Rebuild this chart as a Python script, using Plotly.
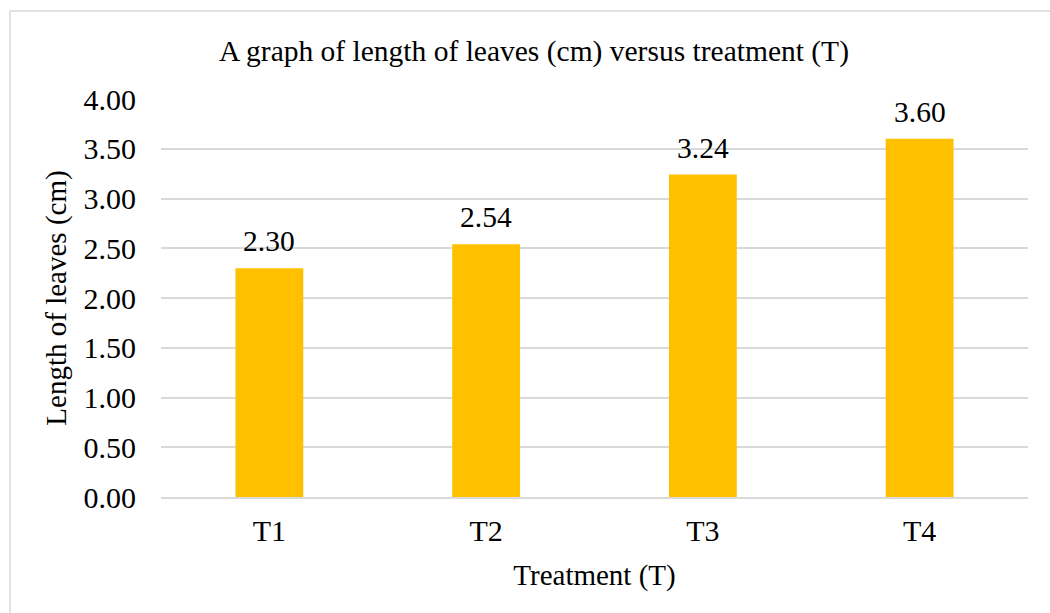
import plotly.graph_objects as go

categories = ["T1", "T2", "T3", "T4"]
values = [2.30, 2.54, 3.24, 3.60]
labels = ["2.30", "2.54", "3.24", "3.60"]
tick_vals = [0, 0.5, 1.0, 1.5, 2.0, 2.5, 3.0, 3.5, 4.0]
tick_text = ["0.00", "0.50", "1.00", "1.50", "2.00", "2.50", "3.00", "3.50", "4.00"]

FONT = "Liberation Serif, Times New Roman, serif"
W, H = 1050, 613
L, R, T, B = 161, 22, 99, 116
PW, PH = W - L - R, H - T - B

fig = go.Figure(go.Bar(
    x=categories, y=values,
    marker=dict(color="#FFC000", line=dict(width=0)),
    hoverinfo="x+y",
))

annotations = [
    dict(x=c, y=v, text=t, xref="x", yref="y", showarrow=False,
         yanchor="bottom", yshift=9, font=dict(family=FONT, size=29.5, color="#000000"))
    for c, v, t in zip(categories, values, labels)
]

bx = (10 - L) / PW
by = (H - 11 - B) / PH
fig.update_layout(
    width=W, height=H,
    paper_bgcolor="white", plot_bgcolor="white",
    margin=dict(l=L, r=R, t=T, b=B, autoexpand=False),
    bargap=0.687,
    showlegend=False,
    title=dict(text="A graph of length of leaves (cm) versus treatment (T)",
               font=dict(family=FONT, size=29.5, color="#000000"),
               x=534 / W, xanchor="center", xref="container", y=1 - 51 / H, yanchor="middle"),
    font=dict(family=FONT, size=30, color="#000000"),
    annotations=annotations,
    shapes=[
        dict(type="line", xref="paper", yref="paper", x0=bx, x1=bx, y0=-0.5, y1=by,
             line=dict(color="#D9D9D9", width=1.5)),
        dict(type="line", xref="paper", yref="paper", x0=bx, x1=1.2, y0=by, y1=by,
             line=dict(color="#D9D9D9", width=1.5)),
    ],
)
fig.update_xaxes(
    showgrid=False, showline=True, linecolor="#D9D9D9", linewidth=1.5,
    ticks="", tickfont=dict(family=FONT, size=30), ticklabelstandoff=6,
    title=dict(text="Treatment (T)", font=dict(family=FONT, size=29), standoff=19),
)
fig.update_yaxes(
    range=[0, 4], tickvals=tick_vals, ticktext=tick_text,
    showgrid=True, gridcolor="#D9D9D9", gridwidth=1.5,
    zeroline=False, showline=False, ticks="",
    tickfont=dict(family=FONT, size=30), ticklabelstandoff=24,
    title=dict(text="Length of leaves (cm)", font=dict(family=FONT, size=29), standoff=8),
)

fig.write_html("out.html", config={"displayModeBar": False},
               post_script="document.body.style.margin='0';document.body.style.overflow='hidden';")
